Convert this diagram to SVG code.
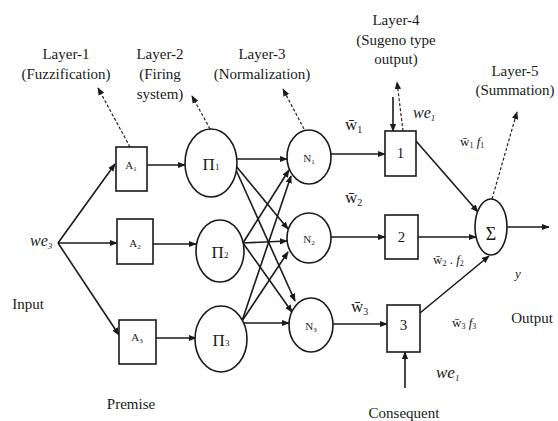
<svg xmlns="http://www.w3.org/2000/svg" width="558" height="421" viewBox="0 0 558 421">
<style>
  .shape{fill:#fff;stroke:#1a1a1a;stroke-width:1.6}
  .ln{stroke:#1a1a1a;stroke-width:1.6;fill:none}
  .dash{stroke:#222;stroke-width:1.2;fill:none;stroke-dasharray:3,2}
  text{font-family:"Liberation Serif","Times New Roman",serif;fill:#1a1a1a}
  .lbl{font-size:15px;text-anchor:middle}
  .sm{font-size:11px;text-anchor:middle}
  .it{font-style:italic}
</style>
<defs>
  <marker id="ah" viewBox="0 0 10 10" refX="9" refY="5" markerWidth="8" markerHeight="8" markerUnits="userSpaceOnUse" orient="auto">
    <path d="M0,1 L10,5 L0,9 z" fill="#1a1a1a"/>
  </marker>
</defs>

<g id="connectors">
  <!-- input fan -->
  <line class="ln" x1="58" y1="243" x2="115" y2="164" marker-end="url(#ah)"/>
  <line class="ln" x1="58" y1="243" x2="117" y2="243" marker-end="url(#ah)"/>
  <line class="ln" x1="58" y1="243" x2="119" y2="335" marker-end="url(#ah)"/>
  <!-- A to Pi -->
  <line class="ln" x1="147" y1="165" x2="185" y2="165" marker-end="url(#ah)"/>
  <line class="ln" x1="153" y1="244" x2="196" y2="244" marker-end="url(#ah)"/>
  <line class="ln" x1="156" y1="338" x2="196" y2="338" marker-end="url(#ah)"/>
  <!-- Pi to N -->
  <line class="ln" x1="237" y1="159" x2="287" y2="159" marker-end="url(#ah)"/>
  <line class="ln" x1="236" y1="166" x2="288" y2="229" marker-end="url(#ah)"/>
  <line class="ln" x1="236" y1="170" x2="295" y2="301" marker-end="url(#ah)"/>
  <line class="ln" x1="243" y1="243" x2="289" y2="170" marker-end="url(#ah)"/>
  <line class="ln" x1="243" y1="243" x2="287" y2="241" marker-end="url(#ah)"/>
  <line class="ln" x1="243" y1="243" x2="292" y2="312" marker-end="url(#ah)"/>
  <line class="ln" x1="242" y1="321" x2="291" y2="176" marker-end="url(#ah)"/>
  <line class="ln" x1="242" y1="321" x2="288" y2="252" marker-end="url(#ah)"/>
  <line class="ln" x1="242" y1="323" x2="289" y2="323" marker-end="url(#ah)"/>
  <!-- N to boxes -->
  <line class="ln" x1="331" y1="154" x2="385" y2="154" marker-end="url(#ah)"/>
  <line class="ln" x1="330" y1="237" x2="385" y2="237" marker-end="url(#ah)"/>
  <line class="ln" x1="333" y1="324" x2="387" y2="324" marker-end="url(#ah)"/>
  <!-- boxes to sigma -->
  <line class="ln" x1="416" y1="141" x2="478" y2="212" marker-end="url(#ah)"/>
  <line class="ln" x1="418" y1="237" x2="476" y2="237" marker-end="url(#ah)"/>
  <line class="ln" x1="420" y1="313" x2="489" y2="256" marker-end="url(#ah)"/>
  <!-- output -->
  <line class="ln" x1="507" y1="227" x2="549" y2="227" marker-end="url(#ah)"/>
  <!-- consequent inputs -->
  <line class="ln" x1="405" y1="388" x2="405" y2="352" marker-end="url(#ah)"/>
  <line class="ln" x1="393" y1="97" x2="393" y2="131" marker-end="url(#ah)"/>
  <!-- dashed layer pointers -->
  <line class="dash" x1="130" y1="147" x2="98" y2="88" marker-end="url(#ah)"/>
  <line class="dash" x1="210" y1="129" x2="192" y2="96" marker-end="url(#ah)"/>
  <line class="dash" x1="304" y1="129" x2="283" y2="89" marker-end="url(#ah)"/>
  <line class="dash" x1="403" y1="131" x2="397" y2="82" marker-end="url(#ah)"/>
  <line class="dash" x1="492" y1="199" x2="517" y2="112" marker-end="url(#ah)"/>
</g>

<g id="A1"><rect class="shape" x="116" y="147" width="31" height="44"/><text class="sm" x="131" y="169">A<tspan font-size="7" dy="2">1</tspan></text></g>
<g id="A2"><rect class="shape" x="117" y="219" width="36" height="45"/><text class="sm" x="135" y="247">A<tspan font-size="7" dy="2">2</tspan></text></g>
<g id="A3"><rect class="shape" x="119" y="320" width="37" height="44"/><text class="sm" x="137" y="341">A<tspan font-size="7" dy="2">3</tspan></text></g>

<g id="P1"><ellipse class="shape" cx="211" cy="163" rx="26" ry="34"/><text x="211" y="170" font-size="17" text-anchor="middle">Π<tspan font-size="9">1</tspan></text></g>
<g id="P2"><ellipse class="shape" cx="220" cy="251" rx="24" ry="31"/><text x="220" y="258" font-size="17" text-anchor="middle">Π<tspan font-size="9">2</tspan></text></g>
<g id="P3"><ellipse class="shape" cx="221" cy="339" rx="26" ry="33"/><text x="221" y="346" font-size="17" text-anchor="middle">Π<tspan font-size="9">3</tspan></text></g>

<g id="N1"><ellipse class="shape" cx="309" cy="157" rx="22" ry="27"/><text class="sm" x="309" y="162">N<tspan font-size="7" dy="2">1</tspan></text></g>
<g id="N2"><ellipse class="shape" cx="309" cy="238" rx="22" ry="25"/><text class="sm" x="309" y="243">N<tspan font-size="7" dy="2">2</tspan></text></g>
<g id="N3"><ellipse class="shape" cx="311" cy="325" rx="22" ry="27"/><text class="sm" x="311" y="330">N<tspan font-size="7" dy="2">3</tspan></text></g>

<g id="B1"><rect class="shape" x="385" y="131" width="31" height="45"/><text class="lbl" x="400.5" y="158">1</text></g>
<g id="B2"><rect class="shape" x="385" y="215" width="33" height="44"/><text class="lbl" x="401.5" y="242">2</text></g>
<g id="B3"><rect class="shape" x="387" y="305" width="33" height="47"/><text class="lbl" x="403.5" y="330">3</text></g>

<g id="SUM"><ellipse class="shape" cx="491" cy="227" rx="16" ry="28"/><text x="491" y="240" font-size="18" text-anchor="middle">Σ</text></g>

<g id="labels">
  <text class="lbl" x="66" y="59">Layer-1</text>
  <text class="lbl" x="66" y="79">(Fuzzification)</text>
  <text class="lbl" x="160" y="59">Layer-2</text>
  <text class="lbl" x="160" y="79">(Firing</text>
  <text class="lbl" x="160" y="99">system)</text>
  <text class="lbl" x="262" y="59">Layer-3</text>
  <text class="lbl" x="262" y="79">(Normalization)</text>
  <text class="lbl" x="396" y="25">Layer-4</text>
  <text class="lbl" x="396" y="45">(Sugeno type</text>
  <text class="lbl" x="396" y="64">output)</text>
  <text class="lbl" x="515" y="76">Layer-5</text>
  <text class="lbl" x="515" y="95">(Summation)</text>

  <text x="345" y="130" font-size="17">w̄<tspan font-size="10" dy="3">1</tspan></text>
  <text x="345" y="203" font-size="17">w̄<tspan font-size="10" dy="3">2</tspan></text>
  <text x="351" y="312" font-size="17">w̄<tspan font-size="10" dy="3">3</tspan></text>

  <text x="413" y="118" font-size="16" class="it">we<tspan font-size="9" dy="3">1</tspan></text>
  <text x="30" y="246" font-size="16" class="it">we<tspan font-size="9" dy="3">3</tspan></text>
  <text x="436" y="378" font-size="17" class="it">we<tspan font-size="9" dy="3">1</tspan></text>

  <text x="460" y="146" font-size="13">w̄<tspan font-size="8" dy="2">1</tspan><tspan dy="-2"> </tspan><tspan class="it">f</tspan><tspan font-size="8" dy="2">1</tspan></text>
  <text x="433" y="264" font-size="13">w̄<tspan font-size="8" dy="2">2</tspan><tspan dy="-2"> . </tspan><tspan class="it">f</tspan><tspan font-size="8" dy="2">2</tspan></text>
  <text x="452" y="327" font-size="13">w̄<tspan font-size="8" dy="2">3</tspan><tspan dy="-2"> </tspan><tspan class="it">f</tspan><tspan font-size="8" dy="2">3</tspan></text>

  <text x="518" y="278" font-size="13" class="it" text-anchor="middle">y</text>
  <text class="lbl" x="28" y="309">Input</text>
  <text class="lbl" x="131" y="409">Premise</text>
  <text class="lbl" x="404" y="418">Consequent</text>
  <text class="lbl" x="532" y="323">Output</text>
</g>
</svg>
